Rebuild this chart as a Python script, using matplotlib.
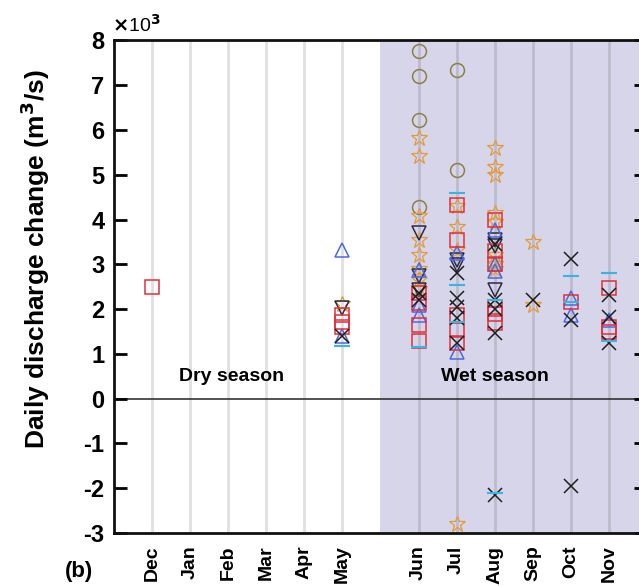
import matplotlib
matplotlib.use("Agg")
import matplotlib.pyplot as plt

plt.rcParams["font.family"] = ["Liberation Sans", "DejaVu Sans"]
plt.rcParams["font.weight"] = "bold"

months = ["Dec", "Jan", "Feb", "Mar", "Apr", "May", "Jun", "Jul", "Aug", "Sep", "Oct", "Nov"]
dry_months = months[:6]

# values in 10^3 m3/s
circle_month = ["Jun", "Jun", "Jun", "Jun", "Jul", "Jul"]
circle_val = [7.77, 7.21, 6.22, 4.29, 7.34, 5.11]

star_month = ["May", "Jun", "Jun", "Jun", "Jun", "Jun", "Jun", "Jun", "Jun",
              "Jul", "Jul", "Jul", "Jul", "Aug", "Aug", "Aug", "Aug", "Aug",
              "Aug", "Aug", "Aug", "Sep", "Sep"]
star_val = [2.12, 5.83, 5.41, 4.07, 3.55, 3.2, 2.9, 2.65, 2.45,
            4.3, 3.84, 3.32, -2.8, 5.6, 5.18, 5.0, 4.15, 3.95,
            3.2, 3.0, 2.9, 3.51, 2.1]

invtri_month = ["May", "Jun", "Jun", "Jun", "Jul", "Jul", "Aug", "Aug", "Aug"]
invtri_val = [2.03, 3.7, 2.73, 2.43, 3.1, 2.98, 3.55, 3.4, 2.43]

tri_month = ["May", "May", "Jun", "Jun", "Jun", "Jul", "Jul", "Aug", "Aug",
             "Aug", "Oct", "Oct", "Nov"]
tri_val = [3.32, 1.4, 2.88, 2.1, 1.87, 3.25, 1.05, 3.77, 3.0,
           2.85, 2.25, 1.87, 1.76]

square_month = ["Dec", "May", "May", "May", "Jun", "Jun", "Jun", "Jun",
                "Jul", "Jul", "Jul", "Jul", "Jul", "Aug", "Aug", "Aug",
                "Aug", "Aug", "Aug", "Oct", "Nov", "Nov", "Nov"]
square_val = [2.49, 1.87, 1.72, 1.61, 2.36, 2.14, 1.65, 1.28,
              4.33, 3.55, 1.87, 1.54, 1.25, 4.0, 3.3, 3.0,
              2.05, 1.9, 1.7, 2.17, 2.47, 1.61, 1.5]

x_month = ["May", "Jun", "Jun", "Jul", "Jul", "Jul", "Jul", "Jul",
           "Aug", "Aug", "Aug", "Aug", "Aug", "Sep", "Oct", "Oct", "Oct",
           "Nov", "Nov", "Nov"]
x_val = [1.39, 2.36, 2.2, 2.81, 2.25, 2.05, 1.8, 1.25,
         3.45, 2.2, 2.0, 1.47, -2.15, 2.2, 3.12, 1.76, -1.95,
         2.32, 1.83, 1.25]

dash_month = ["May", "Jun", "Jul", "Jul", "Jul", "Aug", "Aug", "Oct", "Oct", "Nov", "Nov"]
dash_val = [1.17, 1.15, 4.59, 2.54, 1.72, 2.2, -2.1, 2.73, 2.15, 2.81, 1.28]


def month_x(name):
    # dry months at 1..6, gap, wet months at 8..13
    i = months.index(name)
    return i + 1 if name in dry_months else i + 2


tick_pos = [month_x(m) for m in months]

fig = plt.figure(figsize=(6.39, 5.86), dpi=100)
ax = fig.add_axes([0.1784, 0.0904, 0.834, 0.8406])

ax.axvspan(7, 14, color="#d7d5e9", zorder=0, lw=0)
for p in tick_pos:
    ax.axvline(p, color="black", alpha=0.12, lw=2, zorder=1)
ax.axhline(0, color="#333333", lw=1.2, zorder=1)

series = [
    (circle_month, circle_val, "o", "#8a8048", 10),
    (star_month, star_val, "*", "#e39a3a", 12),
    (invtri_month, invtri_val, "v", "#2b2b45", 10),
    (tri_month, tri_val, "^", "#4a68e6", 10),
    (square_month, square_val, "s", "#e0303c", 9.5),
    (x_month, x_val, "x", "#1e1e1e", 10),
    (dash_month, dash_val, "_", "#3ab4e0", 11),
]
for mon, val, mk, col, ms in series:
    ax.plot([month_x(m) for m in mon], val, linestyle="none", marker=mk,
            markersize=ms, markerfacecolor="none", markeredgecolor=col,
            markeredgewidth=1.5 if mk == "_" else (0.9 if mk == "*" else 1.1), zorder=3)

ax.set_xlim(0, 14)
ax.set_ylim(-3, 8)
ax.set_xticks(tick_pos)
ax.set_xticklabels(months, rotation=90, fontsize=14, fontweight="bold")
ax.set_yticks(range(-3, 9))
ax.set_yticklabels([str(v) for v in range(-3, 9)], fontsize=17, fontweight="bold")
ax.tick_params(axis="x", length=0, pad=9)
ax.tick_params(axis="y", direction="in", length=9.5, width=2, left=True, right=True, pad=7)
for s in ax.spines.values():
    s.set_linewidth(2)
    s.set_color("#111111")

ax.text(3.1, 0.49, "Dry season", ha="center", va="center", fontsize=14, fontweight="bold")
ax.text(10.0, 0.49, "Wet season", ha="center", va="center", fontsize=14, fontweight="bold")

fig.text(112 / 639, 1 - 32 / 586, r"$\times$10$^{3}$", fontsize=14, ha="left", va="baseline",
         fontweight="normal")
fig.text(35 / 639, 1 - 259 / 586, r"Daily discharge change (m$^{3}$/s)",
         rotation=90, ha="center", va="center", fontsize=19, fontweight="bold")
fig.text(65 / 639, 1 - 572 / 586, "(b)", fontsize=16, fontweight="bold", ha="left", va="center")

fig.savefig("out.png", dpi=100)
